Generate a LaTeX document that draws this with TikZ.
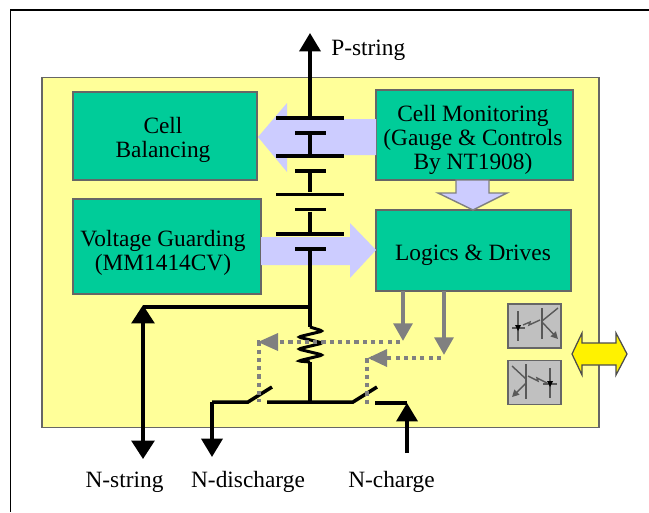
\documentclass[tikz,border=0pt]{standalone}
\usepackage{fontspec}
\setmainfont{Liberation Serif}
\usetikzlibrary{arrows.meta}
\definecolor{panelcolor}{RGB}{255,255,153}
\definecolor{blockcolor}{RGB}{0,204,153}
\definecolor{flowcolor}{RGB}{204,204,255}
\definecolor{gatecolor}{RGB}{128,128,128}
\definecolor{isocolor}{RGB}{192,192,192}

\begin{document}
\begin{tikzpicture}[
    x=0.02cm, y=-0.02cm,
    block/.style={draw=black!60, line width=0.7pt, fill=blockcolor, inner sep=0pt},
    label/.style={inner sep=0pt, align=center, font=\fontsize{13.3}{13.7}\selectfont},
    longplate/.style={fill=black, inner sep=0pt, minimum width=1.36cm, minimum height=2pt},
    shortplate/.style={fill=black, inner sep=0pt, minimum width=0.62cm, minimum height=2pt},
    wire/.style={line width=2pt, black},
    blacktip/.style={-{Triangle[length=10.5pt,width=12pt]}},
    gatewire/.style={line width=2.4pt, gatecolor, -{Triangle[length=10pt,width=10.5pt]}},
    gatedot/.style={line width=2.6pt, gatecolor, dash pattern=on 2.4pt off 2.3pt},
    isobox/.style={draw=black!60, line width=0.8pt, fill=isocolor, inner sep=0pt, minimum width=1.06cm, minimum height=0.88cm},
    isoline/.style={line width=0.8pt, black!65}
]
    \useasboundingbox (0,0) rectangle (649,512);

    % Outer frame and panel
    \draw[line width=0.8pt] (649,10) -- (10.5,10) -- (10.5,512);
    \node[draw=black!60, line width=0.8pt, fill=panelcolor, inner sep=0pt, minimum width=11.14cm, minimum height=7.01cm] (panel) at (320.5,252.5) {};

    % Blocks
    \node[block, minimum width=3.68cm, minimum height=1.76cm] (balance) at (165,136) {};
    \node[block, minimum width=3.76cm, minimum height=1.90cm] (guard) at (167,246.5) {};
    \node[block, minimum width=3.94cm, minimum height=1.80cm] (monitor) at (474.5,135) {};
    \node[block, minimum width=3.90cm, minimum height=1.62cm] (logic) at (473.5,250.5) {};

    % Block texts
    \node[label] (balancetext) at (163,140) {Cell\\Balancing};
    \node[label] (guardtext) at (163,253) {Voltage Guarding\\(MM1414CV)};
    \node[label] (monitortext) at (473,140) {Cell Monitoring\\(Gauge \& Controls\\By NT1908)};
    \node[label] (logictext) at (473,255) {Logics \& Drives};

    % Flow arrows
    \fill[flowcolor] (376,119) -- (287,119) -- (287,103) -- (258,137) -- (287,172) -- (287,155) -- (376,155) -- cycle;
    \fill[flowcolor] (261,237) -- (350,237) -- (350,223) -- (376,250) -- (350,278) -- (350,265) -- (261,265) -- cycle;
    \draw[draw=gatecolor, line width=0.8pt, fill=flowcolor] (456,180) -- (489,180) -- (489,193) -- (507,193) -- (473,210) -- (438,193) -- (456,193) -- cycle;

    % Battery string
    \node[longplate] (cell1) at (310,118) {};
    \node[shortplate] (cell2) at (310,133) {};
    \node[longplate] (cell3) at (310,156) {};
    \node[shortplate] (cell4) at (310,171) {};
    \node[longplate] (cell5) at (310,194.5) {};
    \node[shortplate] (cell6) at (310,209.5) {};
    \node[longplate] (cell7) at (310,234) {};
    \node[shortplate] (cell8) at (310,249) {};
    \coordinate (ptop) at (310,33);
    \coordinate (tap) at (310,307);
    \coordinate (rtop) at (310,327);
    \coordinate (rbot) at (310,362);
    \coordinate (common) at (310,402);
    \draw[wire, blacktip] (cell1) -- (ptop);
    \draw[wire] (cell2) -- (cell3);
    \draw[wire] (cell4) -- (cell5);
    \draw[wire] (cell6) -- (cell7);
    \draw[wire] (cell8) -- (tap) -- (rtop);
    \draw[wire, rounded corners=1.5pt, line width=1.7pt] (rtop) -- (323,331) -- (298,337) -- (323,343) -- (298,349) -- (323,355) -- (298,361) -- (rbot);
    \draw[wire] (rbot) -- (common);

    % Switches and terminals
    \coordinate (pivota) at (248,402);
    \coordinate (bladea) at (272,387);
    \coordinate (pivotb) at (353,402);
    \coordinate (bladeb) at (377,387);
    \coordinate (buswest) at (267,402);
    \coordinate (buschg) at (375,403);
    \coordinate (nstrup) at (143,305);
    \coordinate (nstrdown) at (143,459);
    \coordinate (ndis) at (212,402);
    \coordinate (ndisend) at (212,457);
    \coordinate (nchg) at (407,403);
    \coordinate (nchgend) at (407,453);
    \draw[wire] (tap) -- (143,307);
    \draw[wire, {Triangle[length=10.5pt,width=13pt]}-{Triangle[length=10.5pt,width=13pt]}] (nstrup) -- (nstrdown);
    \draw[wire] (buswest) -- (pivotb) -- (bladeb);
    \draw[wire] (bladea) -- (pivota) -- (ndis);
    \draw[wire, blacktip] (ndis) -- (ndisend);
    \draw[wire] (buschg) -- (nchg);
    \draw[wire, blacktip] (nchgend) -- (nchg);

    % Gate signals
    \coordinate (gatea) at (403,291);
    \coordinate (gateb) at (444,291);
    \coordinate (enda) at (403,341);
    \coordinate (endb) at (444,355);
    \coordinate (cornera) at (259,342);
    \coordinate (cornerb) at (367,358);
    \coordinate (switcha) at (259,402);
    \coordinate (switchb) at (367,404);
    \draw[gatewire] (gatea) -- (enda);
    \draw[gatewire] (gateb) -- (endb);
    \draw[gatedot] (400,342) -- (cornera) -- (switcha);
    \draw[gatedot] (441,358) -- (cornerb) -- (switchb);
    \fill[gatecolor] (258,342) -- (278,333) -- (278,351) -- cycle;
    \fill[gatecolor] (368,358) -- (387,349) -- (387,367) -- cycle;

    % Opto couplers
    \node[isobox] (isoa) at (534.5,326) {};
    \node[isobox] (isob) at (534.5,382.5) {};
    \draw[isoline] (518,311) -- (518,341);
    \draw[isoline] (512,328) -- (525,328);
    \fill[black] (515,325) -- (521,325) -- (518,331) -- cycle;
    \draw[isoline] (523,325) -- (530,322) -- (529,325) -- (540,320);
    \draw[isoline, line width=1pt] (542,308) -- (542,339);
    \draw[isoline] (558,308) -- (542,321);
    \draw[isoline, -{Triangle[length=4pt,width=4pt]}] (542,322) -- (558,339);
    \draw[isoline, line width=1pt] (526,364) -- (526,399);
    \draw[isoline] (512,366) -- (526,379);
    \draw[isoline, -{Triangle[length=4pt,width=4pt]}] (526,383) -- (512,397);
    \draw[isoline] (528,376) -- (538,381) -- (537,378) -- (547,383);
    \draw[isoline] (550,368) -- (550,398);
    \draw[isoline] (543,384) -- (557,384);
    \fill[black] (547,381) -- (553,381) -- (550,387) -- cycle;

    % Bus arrow
    \draw[draw=black!70, line width=0.7pt, fill=yellow] (572,354) -- (582,333) -- (582,343) -- (616,343) -- (616,333) -- (627,354) -- (616,375) -- (616,365) -- (582,365) -- (582,375) -- cycle;

    % Terminal labels
    \node[label, anchor=west] (pstring) at (331,50) {P-string};
    \node[label] (nstring) at (124.5,482) {N-string};
    \node[label] (ndischarge) at (248,482) {N-discharge};
    \node[label] (ncharge) at (391.5,482) {N-charge};
\end{tikzpicture}
\end{document}
